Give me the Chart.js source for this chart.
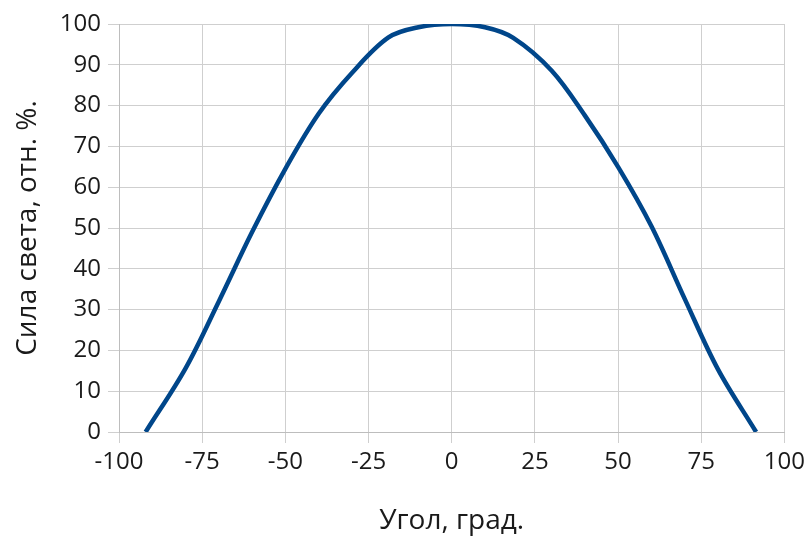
<!DOCTYPE html>
<html>
<head>
<meta charset="utf-8">
<script src="https://cdn.jsdelivr.net/npm/chart.js@4.4.0/dist/chart.umd.min.js"></script>
<style>
    body { margin: 0; background: #ffffff; }
    #wrap { width: 810px; height: 538px; }
</style>
</head>
<body>
<div id="wrap"><canvas id="jsChart"></canvas></div>
<script>
// угол, град.
const angles = [-92, -80, -70, -60, -50, -40, -30, -19, -10, 0,
                10, 18.5, 30, 40, 50, 60, 70, 80, 91.5]
// сила света, отн. %
const intensity = [0, 15.6, 32, 49, 64.5, 78, 88, 96.7, 99.2, 100,
                   99.2, 96.6, 88.6, 77.6, 65, 50.5, 32.7, 15.4, 0]

const xTicks = [-100, -75, -50, -25, 0, 25, 50, 75, 100]
const yTicks = [0, 10, 20, 30, 40, 50, 60, 70, 80, 90, 100]

const fontFamily = '"Open Sans", "Noto Sans", sans-serif'
const textColor = '#1a1a1a'
const gridColor = '#cfcfcf'

function initChart() {

    let element = document.getElementById('jsChart')
    let points = angles.map((a, i) => ({ x: a, y: intensity[i] }))

    new Chart(element, {
        type: 'line',
        data: {
            datasets: [{
                data: points,
                borderColor: '#00468a',
                borderWidth: 4.5,
                pointRadius: 0,
                tension: 0.35,
                fill: false
            }]
        },
        options: {
            responsive: true,
            maintainAspectRatio: false,
            animation: false,
            layout: { padding: { top: 24, right: 25, left: 0, bottom: 0 } },
            plugins: {
                legend: { display: false },
                tooltip: { enabled: false }
            },
            scales: {
                x: {
                    type: 'linear',
                    min: -100,
                    max: 100,
                    afterBuildTicks: (scale) => { scale.ticks = xTicks.map(v => ({ value: v })) },
                    afterFit: (scale) => { scale.height = 106 },
                    grid: { color: gridColor, tickLength: 11, lineWidth: 1 },
                    border: { color: '#bdbdbd', width: 1 },
                    ticks: {
                        color: textColor,
                        padding: 5,
                        maxRotation: 0,
                        font: { family: fontFamily, size: 24 }
                    },
                    title: {
                        display: true,
                        text: 'Угол, град.',
                        color: textColor,
                        padding: { top: 0, bottom: 0 },
                        font: { family: fontFamily, size: 28 }
                    }
                },
                y: {
                    min: 0,
                    max: 100,
                    afterBuildTicks: (scale) => { scale.ticks = yTicks.map(v => ({ value: v })) },
                    afterFit: (scale) => { scale.width = 119 },
                    grid: { color: gridColor, tickLength: 11, lineWidth: 1 },
                    border: { color: '#bdbdbd', width: 1 },
                    ticks: {
                        color: textColor,
                        padding: 7,
                        font: { family: fontFamily, size: 24 }
                    },
                    title: {
                        display: true,
                        text: 'Сила света, отн. %.',
                        color: textColor,
                        padding: { top: 11, bottom: 0 },
                        font: { family: fontFamily, size: 28 }
                    }
                }
            }
        }
    })

    return true
}

initChart()
</script>
</body>
</html>
